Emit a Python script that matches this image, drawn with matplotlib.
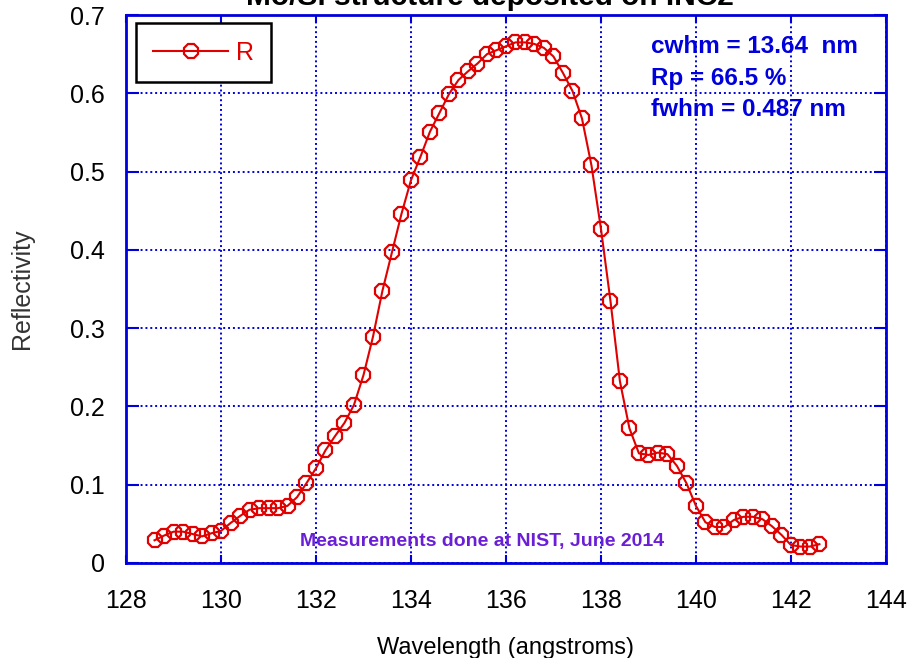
import numpy as np
import matplotlib.pyplot as plt

plt.rcParams['font.family'] = ['Liberation Sans', 'DejaVu Sans']

# Measured reflectivity vs wavelength (0.2 A steps)
wavelength = np.round(np.arange(128.6, 142.61, 0.2), 2)
reflectivity = [
    0.029, 0.035, 0.040, 0.040, 0.037, 0.034, 0.038, 0.041, 0.051, 0.060,
    0.068, 0.070, 0.070, 0.070, 0.073, 0.084, 0.102, 0.121, 0.144, 0.162,
    0.179, 0.202, 0.240, 0.289, 0.348, 0.397, 0.446, 0.489, 0.519, 0.551,
    0.575, 0.599, 0.617, 0.628, 0.638, 0.650, 0.655, 0.660, 0.665, 0.665,
    0.663, 0.658, 0.647, 0.626, 0.603, 0.568, 0.508, 0.427, 0.335, 0.232,
    0.172, 0.140, 0.138, 0.141, 0.139, 0.124, 0.102, 0.073, 0.052, 0.046,
    0.046, 0.055, 0.059, 0.059, 0.056, 0.047, 0.036, 0.023, 0.021, 0.021,
    0.024,
]

xticks = [128, 130, 132, 134, 136, 138, 140, 142, 144]
yticks = [0, 0.1, 0.2, 0.3, 0.4, 0.5, 0.6, 0.7]
ytick_labels = ['0', '0.1', '0.2', '0.3', '0.4', '0.5', '0.6', '0.7']
stats = ['cwhm = 13.64  nm', 'Rp = 66.5 %', 'fwhm = 0.487 nm']

blue = '#0000DD'
red = '#E00000'

fig = plt.figure(figsize=(9.1, 6.58), dpi=100)
ax = fig.add_axes([0.1385, 0.1444, 0.835, 0.8328])

ax.plot(wavelength, reflectivity, '-', color=red, lw=1.5,
        marker='8', markersize=10.5, mfc='none', mec=red, mew=1.6,
        label='R', zorder=3)

ax.set_xlim(128, 144)
ax.set_ylim(0, 0.7)
ax.set_xticks(xticks)
ax.set_yticks(yticks)
ax.set_yticklabels(ytick_labels)

ax.grid(True, color=blue, linestyle=(0, (1, 1.5)), linewidth=1.4)
for s in ax.spines.values():
    s.set_color(blue)
    s.set_linewidth(2)
ax.tick_params(axis='both', which='major', direction='in', color=blue,
               width=1.5, top=True, right=True, labelsize=18)
ax.tick_params(axis='y', length=9, pad=15)
ax.tick_params(axis='x', length=6, pad=19)

ax.set_xlabel('Wavelength (angstroms)', fontsize=17, labelpad=17)
ax.set_ylabel('Reflectivity', fontsize=18, color='#333333', labelpad=26)

fig.text(0.538, 0.993, 'Mo/Si structure deposited on INC2', ha='center',
         va='baseline', fontsize=21.5, fontweight='bold')

# peak statistics
for i, t in enumerate(stats):
    ax.text(0.691, 0.942 - i * 0.057, t, transform=ax.transAxes,
            fontsize=17.5, fontweight='bold', color=blue, va='center')

ax.text(0.468, 0.04, 'Measurements done at NIST, June 2014',
        transform=ax.transAxes, ha='center', va='center', fontsize=14,
        fontweight='bold', color='#6A1FD6')

leg = ax.legend(loc='upper left', bbox_to_anchor=(0.013, 0.985),
                borderaxespad=0, fancybox=False, framealpha=1,
                edgecolor='black', fontsize=18, handlelength=3.0,
                handletextpad=0.3, borderpad=0.7, labelcolor=red)
leg.get_frame().set_linewidth(1.8)

fig.savefig('out.png', dpi=100)
